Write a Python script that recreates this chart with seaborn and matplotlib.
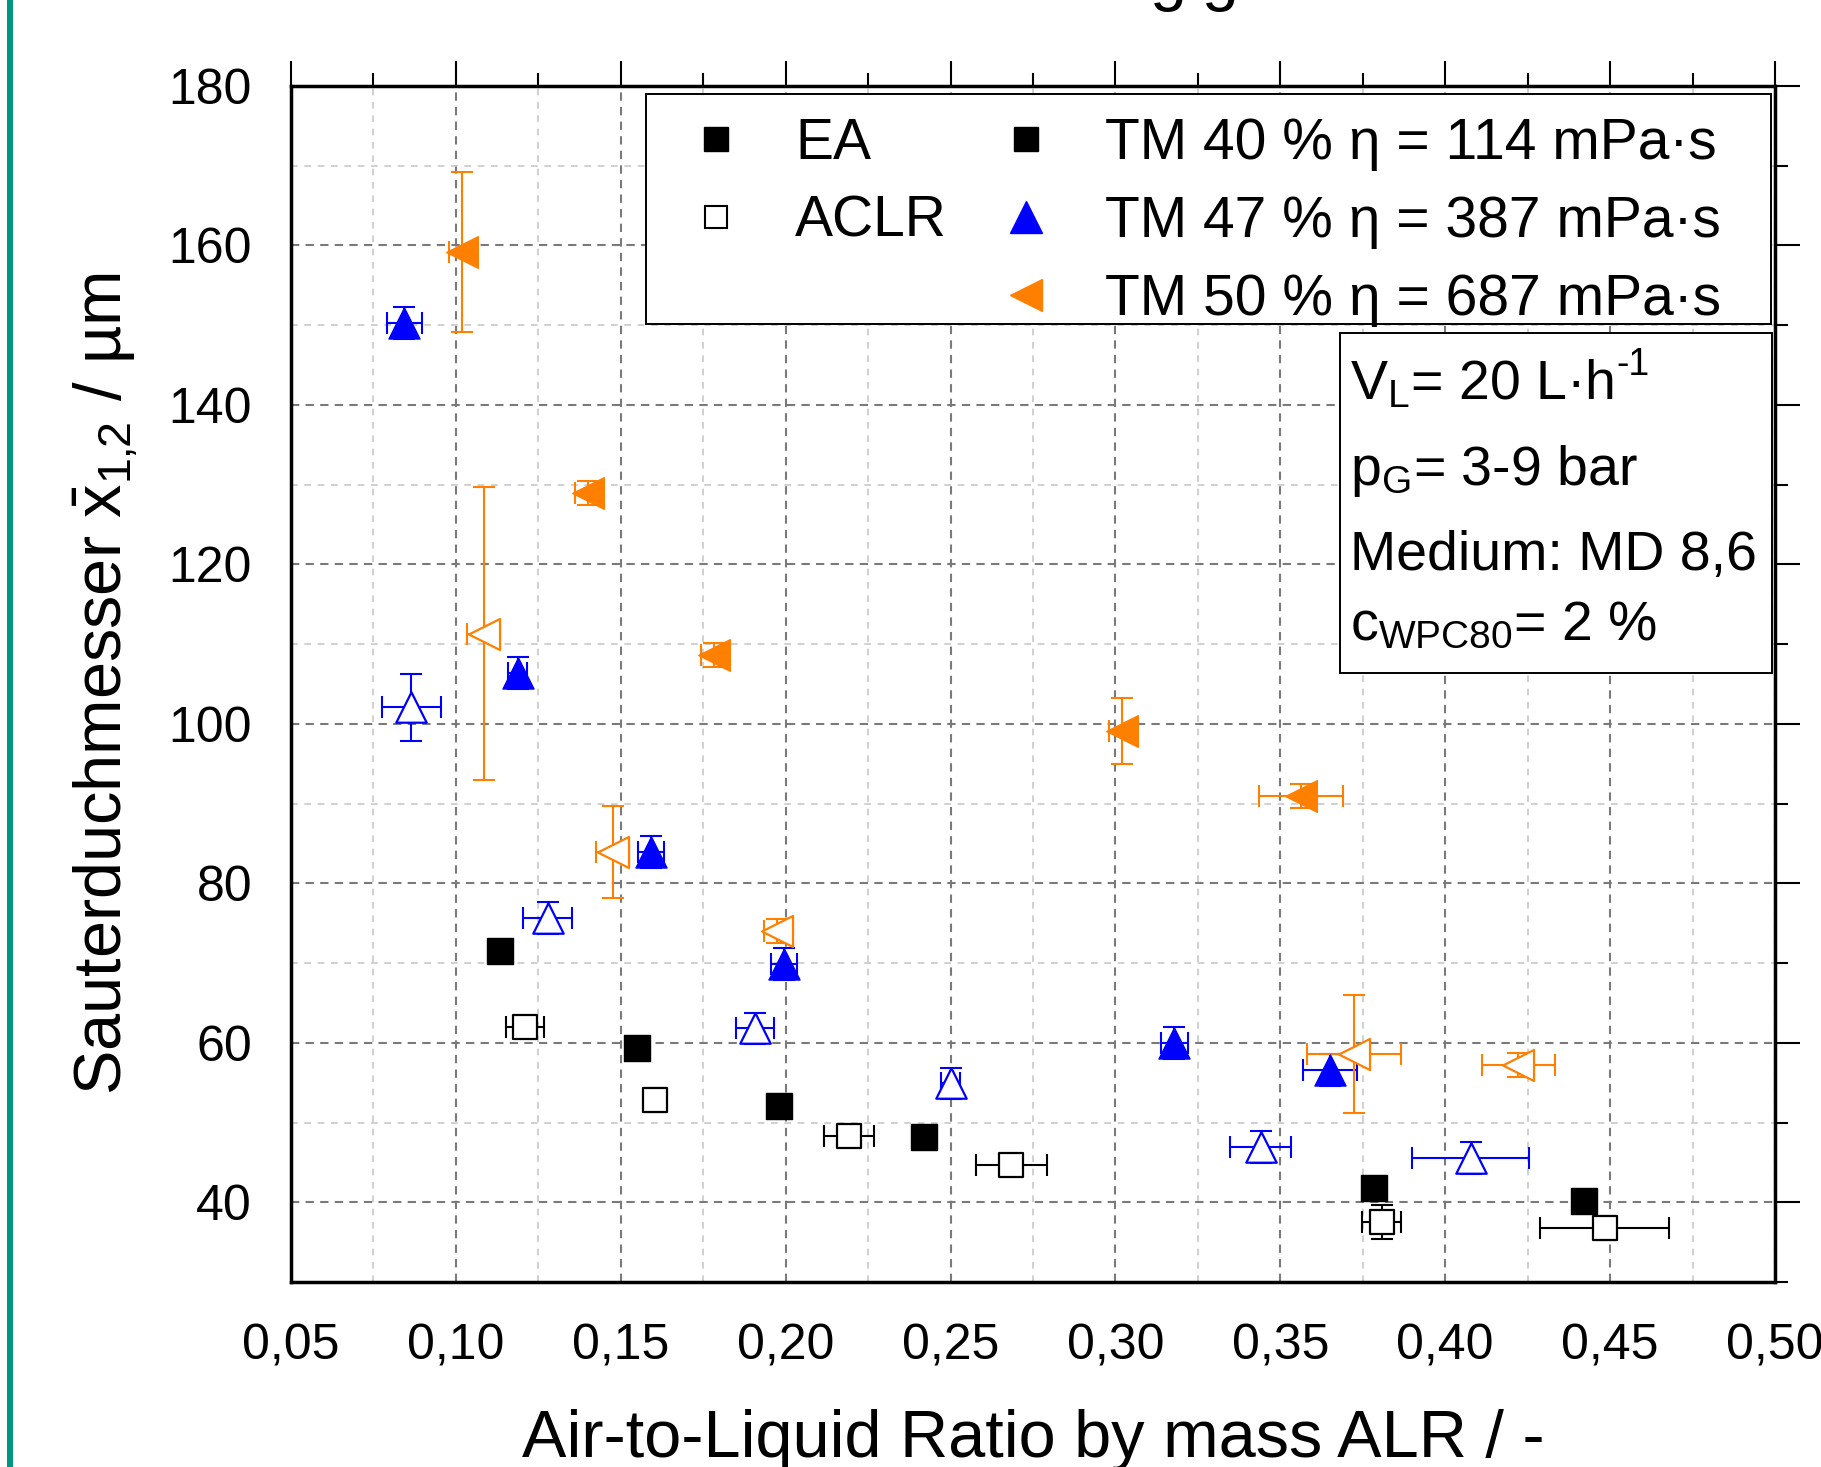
import matplotlib
matplotlib.use("Agg")
import matplotlib.pyplot as plt
import seaborn as sns
import pandas as pd
from matplotlib.lines import Line2D
from matplotlib.patches import Rectangle
from matplotlib.ticker import MultipleLocator, FuncFormatter

# ---------------- data ----------------
# TM 40 % (black squares)
alr_tm40_ea = [0.1134, 0.1549, 0.1980, 0.2418, 0.3784, 0.4420]
d_tm40_ea = [71.5, 59.3, 52.1, 48.2, 41.8, 40.1]
xerr_tm40_ea = [0.0, 0.0, 0.0, 0.0, 0.0, 0.0]
yerr_tm40_ea = [0.0, 0.0, 0.0, 0.0, 0.0, 0.0]

alr_tm40_aclr = [0.1209, 0.1605, 0.2191, 0.2684, 0.3807, 0.4483]
d_tm40_aclr = [62.0, 52.8, 48.3, 44.7, 37.5, 36.8]
xerr_tm40_aclr = [0.0058, 0.001, 0.0076, 0.0108, 0.006, 0.0197]
yerr_tm40_aclr = [1.2, 1.5, 1.0, 1.0, 2.1, 1.5]

# TM 47 % (blue up triangles)
alr_tm47_ea = [0.0844, 0.1187, 0.1591, 0.1995, 0.3179, 0.3650]
d_tm47_ea = [150.3, 106.4, 83.9, 69.9, 60.0, 56.6]
xerr_tm47_ea = [0.0052, 0.003, 0.004, 0.004, 0.004, 0.0082]
yerr_tm47_ea = [2.0, 2.0, 2.0, 2.0, 2.0, 2.0]

alr_tm47_aclr = [0.0865, 0.1278, 0.1908, 0.2500, 0.3440, 0.4077]
d_tm47_aclr = [102.1, 75.7, 61.8, 54.9, 46.9, 45.5]
xerr_tm47_aclr = [0.009, 0.0074, 0.0058, 0.003, 0.0092, 0.0178]
yerr_tm47_aclr = [4.2, 2.0, 2.0, 2.0, 2.0, 2.0]

# TM 50 % (orange left triangles)
alr_tm50_ea = [0.1020, 0.1401, 0.1782, 0.3020, 0.3563]
d_tm50_ea = [159.2, 128.9, 108.6, 99.1, 91.0]
xerr_tm50_ea = [0.004, 0.004, 0.004, 0.004, 0.0127]
yerr_tm50_ea = [10.0, 1.5, 1.5, 4.1, 1.5]

alr_tm50_aclr = [0.1085, 0.1475, 0.1974, 0.3723, 0.4222]
d_tm50_aclr = [111.3, 83.9, 74.0, 58.6, 57.2]
xerr_tm50_aclr = [0.005, 0.005, 0.004, 0.0143, 0.011]
yerr_tm50_aclr = [18.4, 5.75, 1.5, 7.4, 1.5]

legend_method = ["EA", "ACLR"]
legend_tm = ["TM 40 % η = 114 mPa·s", "TM 47 % η = 387 mPa·s", "TM 50 % η = 687 mPa·s"]
info_lines = [r"V$_\mathregular{L}$= 20 L·h",
              r"p$_\mathregular{G}$= 3-9 bar",
              "Medium: MD 8,6",
              r"c$_\mathregular{WPC80}$= 2 %"]
info_sup = "-1"
xlabel = "Air-to-Liquid Ratio by mass ALR / -"
ylabel = "Sauterduchmesser $\\bar{\\mathregular{x}}_{\\mathregular{1\u201a2}}$ / µm"
title_fragment = "Abhängigkeit"

# ---------------- style ----------------
sns.set_style("white")
plt.rcParams['font.family'] = ['Liberation Sans', 'DejaVu Sans']
plt.rcParams['mathtext.fontset'] = 'custom'
plt.rcParams['mathtext.rm'] = 'Liberation Sans'
plt.rcParams['mathtext.it'] = 'Liberation Sans:italic'
plt.rcParams['mathtext.bf'] = 'Liberation Sans:bold'
for key in ['text.color', 'axes.labelcolor', 'xtick.color', 'ytick.color', 'axes.edgecolor']:
    plt.rcParams[key] = 'black'

BLUE = '#0000FF'
ORANGE = '#FF8000'
BLACK = '#000000'

W, H = 1821, 1467
fig = plt.figure(figsize=(W / 100, H / 100), dpi=100)
ax = fig.add_axes([291 / W, 185 / H, 1484 / W, 1196 / H])


def fx(px):
    return px / W


def fy(py):
    return 1 - py / H


series = [
    (alr_tm40_ea, d_tm40_ea, xerr_tm40_ea, yerr_tm40_ea, 's', BLACK, True, 340),
    (alr_tm40_aclr, d_tm40_aclr, xerr_tm40_aclr, yerr_tm40_aclr, 's', BLACK, False, 290),
    (alr_tm47_ea, d_tm47_ea, xerr_tm47_ea, yerr_tm47_ea, '^', BLUE, True, 500),
    (alr_tm47_aclr, d_tm47_aclr, xerr_tm47_aclr, yerr_tm47_aclr, '^', BLUE, False, 480),
    (alr_tm50_ea, d_tm50_ea, xerr_tm50_ea, yerr_tm50_ea, '<', ORANGE, True, 520),
    (alr_tm50_aclr, d_tm50_aclr, xerr_tm50_aclr, yerr_tm50_aclr, '<', ORANGE, False, 500),
]

for x, y, xe, ye, m, c, filled, s in series:
    ax.errorbar(x, y, xerr=xe, yerr=ye, fmt='none', ecolor=c, elinewidth=1.5,
                capsize=8, capthick=1.5, zorder=2.5)
    df = pd.DataFrame({"ALR": x, "d32": y})
    sns.scatterplot(data=df, x="ALR", y="d32", marker=m, s=s,
                    color=(c if filled else 'white'), edgecolor=c,
                    linewidth=(1.0 if filled else 1.6), ax=ax, zorder=3, legend=False)

ax.set_xlim(0.05, 0.50)
ax.set_ylim(30, 180)
ax.xaxis.set_major_locator(MultipleLocator(0.05))
ax.xaxis.set_minor_locator(MultipleLocator(0.025))
ax.yaxis.set_major_locator(MultipleLocator(20))
ax.yaxis.set_minor_locator(MultipleLocator(10))
ax.xaxis.set_major_formatter(FuncFormatter(lambda v, p: f"{v:.2f}".replace('.', ',')))
ax.yaxis.set_major_formatter(FuncFormatter(lambda v, p: f"{v:.0f}"))

ax.set_axisbelow(True)
ax.grid(which='major', color='#7a7a7a', linestyle=(0, (4, 3)), linewidth=1.5)
ax.grid(which='minor', color='#c8c8c8', linestyle=(0, (4, 4)), linewidth=1.2)

for sp in ax.spines.values():
    sp.set_linewidth(2.5)
    sp.set_color('black')

ax.tick_params(which='major', direction='out', length=18, width=1.5, top=True, right=True,
               labeltop=False, labelright=False, labelsize=36, colors='black')
ax.tick_params(axis='x', which='major', pad=12)
ax.tick_params(axis='y', which='major', pad=10)
ax.tick_params(which='minor', direction='out', length=9.5, width=1.5, top=True, right=True)

ax.set_xlabel(xlabel, fontsize=48, color='black')
ax.set_ylabel(ylabel, fontsize=48, color='black')
ax.xaxis.set_label_coords(0.5, -0.106)
ax.yaxis.set_label_coords(-0.102, 0.5)

# legend box
fig.add_artist(Rectangle((fx(646), fy(324)), (1771 - 646) / W, (324 - 94) / H,
                         transform=fig.transFigure, facecolor='white', edgecolor='black',
                         linewidth=1.4, zorder=4))
handles = [
    Line2D([], [], ls='none', marker='s', ms=17, mfc=BLACK, mec=BLACK),
    Line2D([], [], ls='none', marker='s', ms=16, mfc='white', mec=BLACK, mew=1.5),
    Line2D([], [], ls='none', marker=None),
    Line2D([], [], ls='none', marker='s', ms=17, mfc=BLACK, mec=BLACK),
    Line2D([], [], ls='none', marker='^', ms=23, mfc=BLUE, mec=BLUE),
    Line2D([], [], ls='none', marker='<', ms=23, mfc=ORANGE, mec=ORANGE),
]
labels = [legend_method[0], legend_method[1], "", legend_tm[0], legend_tm[1], legend_tm[2]]
leg = fig.legend(handles, labels, ncol=2, loc='upper left',
                 bbox_to_anchor=(fx(658), fy(117)), bbox_transform=fig.transFigure,
                 frameon=False, fontsize=41, borderpad=0, borderaxespad=0,
                 handlelength=2.04, handletextpad=0.37, columnspacing=0.37,
                 labelspacing=0.42)
leg.set_zorder(5)
for t in leg.get_texts():
    t.set_color('black')

# info box
fig.add_artist(Rectangle((fx(1340), fy(673)), (1771.5 - 1340) / W, (673 - 333) / H,
                         transform=fig.transFigure, facecolor='white', edgecolor='black',
                         linewidth=1.4, zorder=4))
info_texts = []
for txt, base in zip(info_lines, [399, 485, 570, 640]):
    info_texts.append(fig.text(fx(1350), fy(base), txt, fontsize=40, ha='left',
                               va='baseline', zorder=5, color='black'))
# superscript "-1" after "h" (plain hyphen as in the reference)
renderer = fig.canvas.get_renderer()
bb = info_texts[0].get_window_extent(renderer=renderer)
fig.text(bb.x1 / W + fx(2), fy(399 - 24), info_sup, fontsize=27, ha='left',
         va='baseline', zorder=5, color='black')

# cut-off title (only descenders visible at top edge)
fig.text(fx(958), fy(-2), title_fragment, fontsize=48, ha='left', va='baseline', color='black')

# teal vertical bar at the left edge
fig.add_artist(Line2D([fx(10.3), fx(10.3)], [0, 1], transform=fig.transFigure,
                      color='#00957f', linewidth=4.3))

fig.savefig("out.png", dpi=100)
